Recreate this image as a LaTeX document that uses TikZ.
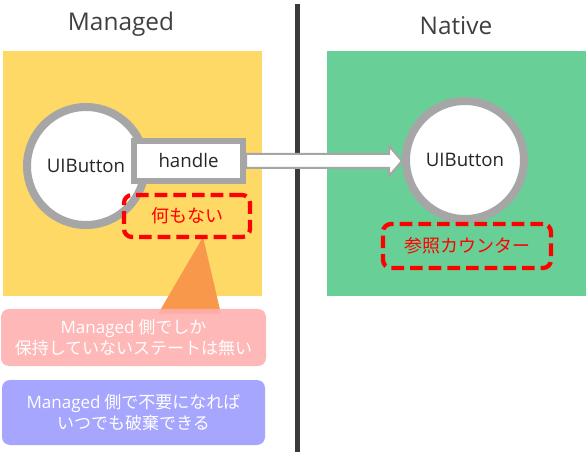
\documentclass[tikz,border=0pt]{standalone}
\usepackage{fontspec}
\setmainfont{Noto Sans CJK JP}
\newfontfamily\latinfont{Open Sans}
\usetikzlibrary{calc, positioning}

\definecolor{mgdyellow}{HTML}{FFD966}
\definecolor{natgreen}{HTML}{68D096}
\definecolor{ringgray}{HTML}{A6A6A6}
\definecolor{calloutorange}{HTML}{F8984A}
\definecolor{notepink}{HTML}{FFB0B0}
\definecolor{noteblue}{HTML}{A6A6FF}
\definecolor{titlegray}{HTML}{404040}
\definecolor{textgray}{HTML}{262626}

\begin{document}
\begin{tikzpicture}[
  x=0.75pt, y=-0.75pt,
  title/.style={font=\latinfont\fontsize{18.3}{22}\selectfont, text=titlegray},
  area/.style={rectangle, draw=none, minimum width=194.25pt, minimum height=183.75pt},
  object/.style={circle, draw=ringgray, fill=white, line width=6pt,
             minimum size=88.5pt, text=textgray, font=\latinfont\fontsize{14}{17}\selectfont},
  field/.style={rectangle, draw=ringgray, fill=white, line width=4.5pt,
             minimum width=81.75pt, minimum height=30pt, text=textgray,
             font=\latinfont\fontsize{14}{17}\selectfont},
  mark box/.style={rectangle, draw=red, line width=3.2pt, dash pattern=on 9.5pt off 4.5pt,
             rounded corners=6pt, text=red, font=\fontsize{13.5}{16}\selectfont},
  note/.style={rectangle, rounded corners=6pt, align=center, text=white,
             font=\fontsize{12.75}{15.75}\selectfont},
  bigarrow/.style={draw=ringgray, fill=white, line width=1.5pt, line join=miter}
]
\useasboundingbox (0,0) rectangle (586,456);

% Titles and divider
\node[title] (mtitle) at (121,24) {Managed};
\node[title] (ntitle) at (456,26) {Native};
\draw[titlegray!90!black, line width=3.75pt] (297,4) -- (297,452);

% Areas
\node[area, fill=mgdyellow] (managed) at (132.5,173.5) {};
\node[area, fill=natgreen] (native) at (456.5,173.5) {};

% Callout to the empty state
\fill[calloutorange] (203,237) -- (158,314) -- (221,314) -- cycle;

% Objects
\node[object] (mbutton) at (86,166) {UIButton};
\node[field] (handle) at (188.5,161) {handle};
\node[object] (nbutton) at (465,160) {UIButton};

% Handle arrow
\coordinate (tip) at (handle.east -| nbutton.west);
\draw[bigarrow] ($(handle.east)+(0,-7)$) -- ($(tip)+(-13,-7)$) -- ($(tip)+(-13,-15)$)
  -- (tip) -- ($(tip)+(-13,15)$) -- ($(tip)+(-13,7)$) -- ($(handle.east)+(0,7)$) -- cycle;

% Marked states
\node[mark box, minimum width=94.5pt, minimum height=31.5pt] (nothing) at (187,216) {何もない};
\node[mark box, minimum width=126pt, minimum height=33pt] (refcount) at (467,246) {参照カウンター};

% Notes
\node[note, fill=notepink, fill opacity=0.9, text opacity=1,
      minimum width=198.75pt, minimum height=42.75pt] (nostate) at (133.5,337.5)
  {{\latinfont Managed} 側でしか\\保持していないステートは無い};
\node[note, fill=noteblue, minimum width=197.25pt, minimum height=48.75pt] (dispose) at (133.5,412.5)
  {{\latinfont Managed} 側で不要になれば\\いつでも破棄できる};

\end{tikzpicture}
\end{document}
